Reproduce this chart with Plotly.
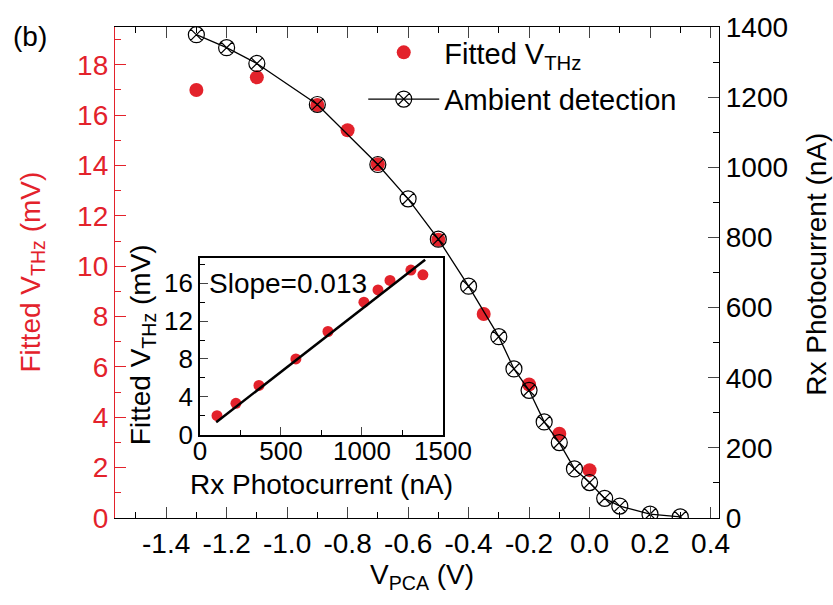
import plotly.graph_objects as go

# ---- data ----
amb_v = [-1.3, -1.2, -1.1, -0.9, -0.7, -0.6, -0.5, -0.4, -0.3, -0.25, -0.2, -0.15, -0.1, -0.05, 0.0, 0.05, 0.1, 0.2, 0.3]
amb_i = [1378, 1341, 1296, 1179, 1008, 910, 795, 661, 517, 425, 364, 274, 215, 140, 101, 56, 34, 11, 3]

fit_v = [-1.3, -1.1, -0.9, -0.8, -0.7, -0.5, -0.35, -0.2, -0.1, 0.0]
fit_mv = [17.0, 17.5, 16.4, 15.4, 14.05, 11.05, 8.1, 5.3, 3.35, 1.9]

ins_i = [105, 222, 364, 592, 790, 1012, 1099, 1173, 1302, 1376]
ins_mv = [2.0, 3.3, 5.2, 8.0, 10.9, 14.0, 15.3, 16.3, 17.4, 16.9]
line_i = [100, 1390]
line_mv = [1.3, 18.5]

x_ticks = [-1.4, -1.2, -1.0, -0.8, -0.6, -0.4, -0.2, 0.0, 0.2, 0.4]
x_ticktext = ["-1.4", "-1.2", "-1.0", "-0.8", "-0.6", "-0.4", "-0.2", "0.0", "0.2", "0.4"]
y1_ticks = [0, 2, 4, 6, 8, 10, 12, 14, 16, 18]
y2_ticks = [0, 200, 400, 600, 800, 1000, 1200, 1400]
ix_ticks = [0, 500, 1000, 1500]
iy_ticks = [0, 4, 8, 12, 16]

RED = "#e3222b"
FONT = "Liberation Sans, Arial, sans-serif"
FS = 28

fig = go.Figure()

fig.add_trace(go.Scatter(
    x=fit_v, y=fit_mv, mode="markers", name="Fitted V<sub>THz</sub>",
    marker=dict(color=RED, size=14, line=dict(width=0)),
    xaxis="x", yaxis="y", legendgroup="a"))

fig.add_trace(go.Scatter(
    x=amb_v, y=amb_i, mode="lines+markers", name="Ambient detection",
    line=dict(color="black", width=1.3),
    marker=dict(symbol="circle-x-open", size=16, color="black", line=dict(width=1.2)),
    xaxis="x", yaxis="y2", legendgroup="b"))

fig.add_trace(go.Scatter(
    x=ins_i, y=ins_mv, mode="markers", showlegend=False,
    marker=dict(color=RED, size=11, line=dict(width=0)),
    xaxis="x3", yaxis="y3"))

fig.add_trace(go.Scatter(
    x=line_i, y=line_mv, mode="lines", showlegend=False,
    line=dict(color="black", width=2.5),
    xaxis="x3", yaxis="y3"))

axis_common = dict(showgrid=False, zeroline=False, ticks="inside", showline=True)

fig.update_layout(
    width=833, height=605,
    margin=dict(l=115, r=114, t=18, b=87),
    plot_bgcolor="white", paper_bgcolor="white",
    font=dict(family=FONT, size=FS, color="black"),
    showlegend=True,
    legend=dict(x=0.411, y=1.0, xanchor="left", yanchor="top",
                bgcolor="rgba(0,0,0,0)", font=dict(size=29),
                itemwidth=71, tracegroupgap=6, traceorder="grouped"),
    xaxis=dict(**axis_common, range=[-1.569, 0.428], domain=[0, 1],
               tickvals=x_ticks, ticktext=x_ticktext, ticklen=11, tickwidth=1.3,
               linecolor="black", linewidth=1.3, mirror="ticks",
               minor=dict(dtick=0.1, tick0=0, ticks="inside", ticklen=6, tickwidth=1.3, tickcolor="black"),
               tickfont=dict(size=FS), anchor="y"),
    yaxis=dict(**axis_common, range=[0, 19.5], tickvals=y1_ticks,
               ticklen=11, tickwidth=1.3, tickcolor=RED,
               linecolor=RED, linewidth=1.3,
               minor=dict(dtick=1, tick0=0, ticks="inside", ticklen=6, tickwidth=1.3, tickcolor=RED),
               tickfont=dict(size=FS, color=RED), anchor="x"),
    yaxis2=dict(**axis_common, range=[0, 1400], tickvals=y2_ticks, overlaying="y", side="right",
                ticklen=11, tickwidth=1.3, linecolor="black", linewidth=1.3,
                minor=dict(dtick=100, tick0=0, ticks="inside", ticklen=6, tickwidth=1.3, tickcolor="black"),
                tickfont=dict(size=FS), anchor="x"),
    xaxis3=dict(**axis_common, range=[0, 1500], domain=[0.1407, 0.543], tickvals=ix_ticks,
                ticklen=8, tickwidth=1.3, linecolor="black", linewidth=1.5, mirror=True,
                ticklabelstandoff=-7,
                minor=dict(dtick=250, tick0=0, ticks="inside", ticklen=5, tickwidth=1.2, tickcolor="black"),
                tickfont=dict(size=26), anchor="y3"),
    yaxis3=dict(**axis_common, range=[0, 18.7], domain=[0.17, 0.53], tickvals=iy_ticks,
                ticklen=8, tickwidth=1.3, linecolor="black", linewidth=1.5, mirror=True,
                minor=dict(dtick=2, tick0=0, ticks="inside", ticklen=5, tickwidth=1.2, tickcolor="black"),
                tickfont=dict(size=26), anchor="x3"),
)

ann = [
    dict(text="(b)", x=30, y=28, font=dict(size=FS)),
    dict(text="Fitted V<sub>THz</sub> (mV)", x=32, y=268, textangle=-90, font=dict(size=FS, color=RED)),
    dict(text="Rx Photocurrent (nA)", x=817, y=260, textangle=-90, font=dict(size=FS)),
    dict(text="V<sub>PCA</sub> (V)", x=422, y=578, font=dict(size=FS)),
    dict(text="Fitted V<sub>THz</sub> (mV)", x=142, y=342, textangle=-90, font=dict(size=FS)),
    dict(text="Rx Photocurrent (nA)", x=321, y=484, font=dict(size=FS)),
    dict(text="Slope=0.013", x=288, y=279, font=dict(size=FS)),
]
for a in ann:
    fig.add_annotation(
        text=a["text"], xref="paper", yref="paper",
        x=(a["x"] - 115) / 604, y=(518 - a["y"]) / 500,
        xanchor="center", yanchor="middle", showarrow=False,
        textangle=a.get("textangle", 0), font=dict(family=FONT, **a["font"]))

fig.write_html("out.html")
